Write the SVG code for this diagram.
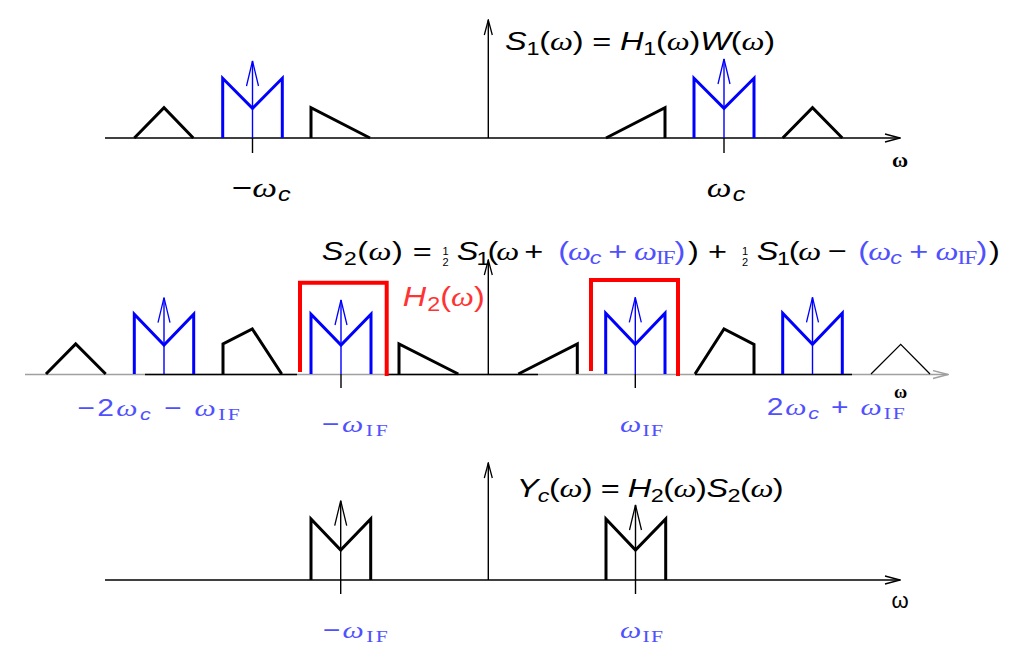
<svg xmlns="http://www.w3.org/2000/svg" width="1023" height="655" viewBox="0 0 1023 655">
<style>
.ax{stroke:#000;stroke-width:1.4;fill:none}
.axg{stroke:#a0a0a0;stroke-width:1.6;fill:none}
.sh{stroke:#000;stroke-width:3;fill:none;stroke-linejoin:miter}
.thin{stroke:#000;stroke-width:1.3;fill:none}
.bm{stroke:#0000ff;stroke-width:3;fill:none;stroke-linejoin:miter}
.rf{stroke:#ff0000;stroke-width:4;fill:none;stroke-linejoin:miter}
.ib{stroke:#0000ff;stroke-width:1.4;fill:none}
.ik{stroke:#000;stroke-width:1.4;fill:none}
.tk{stroke:#000;stroke-width:1.4}
text{font-family:"Liberation Sans","Noto Sans",sans-serif}
.t{font-size:26px;fill:#000}
.lb{fill:#5050ff}
.i{font-style:italic}
.w{font-family:"Liberation Serif",serif;font-style:italic}
.s{font-size:0.72em}
.sf{font-family:"Liberation Serif",serif;font-style:normal}
.om{font-family:"Liberation Serif",serif;font-weight:bold;fill:#000}
.fr{font-size:11px;fill:#000;text-anchor:middle}
</style>
<defs>
<marker id="ak" viewBox="-16 -5 17 10" markerWidth="17" markerHeight="10" refX="0" refY="0" orient="auto" markerUnits="userSpaceOnUse"><path d="M-15 -4 L0 0 L-15 4" fill="none" stroke="#000" stroke-width="1.3"/></marker>
<marker id="ag" viewBox="-16 -5 17 10" markerWidth="17" markerHeight="10" refX="0" refY="0" orient="auto" markerUnits="userSpaceOnUse"><path d="M-15 -4 L0 0 L-15 4" fill="none" stroke="#a0a0a0" stroke-width="1.3"/></marker>
<marker id="ib" viewBox="-27 -7 28 14" markerWidth="28" markerHeight="14" refX="0" refY="0" orient="auto" markerUnits="userSpaceOnUse"><path d="M-25 -6 L0 0 L-25 6" fill="none" stroke="#0000ff" stroke-width="1.3"/></marker>
<marker id="ik" viewBox="-27 -7 28 14" markerWidth="28" markerHeight="14" refX="0" refY="0" orient="auto" markerUnits="userSpaceOnUse"><path d="M-25 -6 L0 0 L-25 6" fill="none" stroke="#000" stroke-width="1.3"/></marker>
</defs>

<g id="connectors">
<line class="ax" x1="105" y1="138" x2="900" y2="138" marker-end="url(#ak)"/>
<line class="ax" x1="488.3" y1="138" x2="488.3" y2="20" marker-end="url(#ak)"/>
<line class="axg" x1="25" y1="374.5" x2="948" y2="374.5" marker-end="url(#ag)"/>
<line class="ax" x1="145" y1="374.5" x2="297" y2="374.5"/>
<line class="ax" x1="387" y1="374.5" x2="538" y2="374.5"/>
<line class="ax" x1="695" y1="374.5" x2="852" y2="374.5"/>
<line class="ax" x1="488.3" y1="374.5" x2="488.3" y2="260" marker-end="url(#ak)"/>
<line class="ax" x1="105" y1="580" x2="900" y2="580" marker-end="url(#ak)"/>
<line class="ax" x1="488.3" y1="580" x2="488.3" y2="463" marker-end="url(#ak)"/>
<line class="tk" x1="252.5" y1="138" x2="252.5" y2="153"/>
<line class="tk" x1="724" y1="138" x2="724" y2="153"/>
<line class="tk" x1="341" y1="374" x2="341" y2="388"/>
<line class="tk" x1="635.3" y1="374" x2="635.3" y2="388"/>
<line class="tk" x1="340.7" y1="580" x2="340.7" y2="594"/>
<line class="tk" x1="635.5" y1="580" x2="635.5" y2="594"/>
</g>

<g id="panel1">
<path class="sh" d="M134.3 138 L164 107.7 L193.3 138"/>
<path class="bm" d="M222.7 138 V78.3 L252.5 108.3 L282.3 78.3 V138"/>
<line class="ib" x1="252.5" y1="138" x2="252.5" y2="61" marker-end="url(#ib)"/>
<path class="sh" d="M311 138 V107.7 L370 138"/>
<path class="sh" d="M606 138 L665 107.7 V138"/>
<path class="bm" d="M694 138 V78.3 L724 108.3 L754 78.3 V138"/>
<line class="ib" x1="724" y1="138" x2="724" y2="59" marker-end="url(#ib)"/>
<path class="sh" d="M782.7 138 L812.5 107.7 L842.3 138"/>
<g transform="translate(505,50) scale(1.25,1)"><text class="t" textLength="216" lengthAdjust="spacing"><tspan class="i">S</tspan><tspan class="s" dy="5">1</tspan><tspan dy="-5">(</tspan><tspan class="w">ω</tspan>) = <tspan class="i">H</tspan><tspan class="s" dy="5">1</tspan><tspan dy="-5">(</tspan><tspan class="w">ω</tspan>)<tspan class="i">W</tspan>(<tspan class="w">ω</tspan>)</text></g>
<text class="om" x="900" y="167" font-size="22" text-anchor="middle">ω</text>
<g transform="translate(231.7,197) scale(1.25,1)"><text font-size="28">−<tspan class="w">ω</tspan><tspan class="i s" dx="1" dy="4">c</tspan></text></g>
<g transform="translate(706.7,197) scale(1.25,1)"><text font-size="28"><tspan class="w">ω</tspan><tspan class="i s" dx="1" dy="4">c</tspan></text></g>
</g>

<g id="panel2">
<path class="sh" d="M46 374 L75.7 344 L105.7 374"/>
<path class="bm" d="M134.3 374 V314.3 L164 345 L193.7 314.3 V374"/>
<line class="ib" x1="164" y1="374" x2="164" y2="297.7" marker-end="url(#ib)"/>
<path class="sh" d="M223 374 V344 L252.3 329 L281.7 374"/>
<path class="rf" d="M300 372 V282.7 H386.7 V376"/>
<path class="bm" d="M311 374 V314.3 L341 345 L371 314.3 V374"/>
<line class="ib" x1="341" y1="374" x2="341" y2="300" marker-end="url(#ib)"/>
<path class="sh" d="M399 374 V344 L458.3 374"/>
<path class="sh" d="M518.3 374 L577.3 344 V374"/>
<path class="rf" d="M591 371 V280 H678 V376"/>
<path class="bm" d="M605.7 374 V313.3 L635.3 344.3 L665 313.3 V374"/>
<line class="ib" x1="635.3" y1="374" x2="635.3" y2="297.3" marker-end="url(#ib)"/>
<path class="sh" d="M695 374 L724 329 L754 344.3 V374"/>
<path class="bm" d="M782.7 374 V313.3 L812.5 344.3 L842.3 313.3 V374"/>
<line class="ib" x1="812.5" y1="374" x2="812.5" y2="297.3" marker-end="url(#ib)"/>
<path class="thin" d="M871 374 L900.7 344.3 L930 374"/>
<g transform="translate(402.7,306) scale(1.2,1)"><text font-size="27" fill="#ff3333"><tspan class="i">H</tspan><tspan class="s" dx="1" dy="5">2</tspan><tspan dy="-5">(</tspan><tspan class="w">ω</tspan>)</text></g>
<g transform="translate(321.7,260) scale(1.25,1)"><text class="t" textLength="88" lengthAdjust="spacing"><tspan class="i">S</tspan><tspan class="s" dy="5">2</tspan><tspan dy="-5">(</tspan><tspan class="w">ω</tspan>) =</text></g>
<text class="fr"><tspan x="445.5" y="255">1</tspan><tspan x="445.5" y="266">2</tspan></text>
<g transform="translate(456.7,260) scale(1.25,1)"><text class="t" textLength="69.3" lengthAdjust="spacing"><tspan class="i">S</tspan><tspan class="s" dy="5">1</tspan><tspan dy="-5">(</tspan><tspan class="w">ω</tspan> +</text></g>
<g transform="translate(558.3,260) scale(1.25,1)"><text class="t lb" textLength="101.6" lengthAdjust="spacing">(<tspan class="w">ω</tspan><tspan class="i s" dy="4">c</tspan><tspan dy="-4"> + </tspan><tspan class="w">ω</tspan><tspan class="sf s" dy="4">IF</tspan><tspan dy="-4">)</tspan></text></g>
<g transform="translate(688,260) scale(1.25,1)"><text class="t" textLength="31.2" lengthAdjust="spacing">) +</text></g>
<text class="fr"><tspan x="745" y="255">1</tspan><tspan x="745" y="266">2</tspan></text>
<g transform="translate(756.7,260) scale(1.25,1)"><text class="t" textLength="72" lengthAdjust="spacing"><tspan class="i">S</tspan><tspan class="s" dy="5">1</tspan><tspan dy="-5">(</tspan><tspan class="w">ω</tspan> −</text></g>
<g transform="translate(858.3,260) scale(1.25,1)"><text class="t lb" textLength="103.2" lengthAdjust="spacing">(<tspan class="w">ω</tspan><tspan class="i s" dy="4">c</tspan><tspan dy="-4"> + </tspan><tspan class="w">ω</tspan><tspan class="sf s" dy="4">IF</tspan><tspan dy="-4">)</tspan></text></g>
<g transform="translate(989,260) scale(1.25,1)"><text class="t">)</text></g>
<text class="om" x="900.7" y="398" font-size="18" text-anchor="middle">ω</text>
<g transform="translate(77.3,416) scale(1.25,1)"><text class="lb" font-size="24" textLength="130" lengthAdjust="spacing">−2<tspan class="w">ω</tspan><tspan class="i s" dy="4">c</tspan><tspan dy="-4"> − </tspan><tspan class="w">ω</tspan><tspan class="sf s" dy="4">IF</tspan></text></g>
<g transform="translate(766.7,415) scale(1.25,1)"><text class="lb" font-size="24" textLength="110.4" lengthAdjust="spacing">2<tspan class="w">ω</tspan><tspan class="i s" dy="4">c</tspan><tspan dy="-4"> + </tspan><tspan class="w">ω</tspan><tspan class="sf s" dy="4">IF</tspan></text></g>
<g transform="translate(321.7,432) scale(1.25,1)"><text class="lb" font-size="24" textLength="52.8" lengthAdjust="spacing">−<tspan class="w">ω</tspan><tspan class="sf s" dy="4">IF</tspan></text></g>
<g transform="translate(620,432) scale(1.25,1)"><text class="lb" font-size="24" textLength="34.4" lengthAdjust="spacing"><tspan class="w">ω</tspan><tspan class="sf s" dy="4">IF</tspan></text></g>
</g>

<g id="panel3">
<path class="sh" d="M311 580 V519 L340.7 550 L370.7 519 V580"/>
<line class="ik" x1="340.7" y1="580" x2="340.7" y2="500.7" marker-end="url(#ik)"/>
<path class="sh" d="M606 580 V519 L635.5 550 L665.7 519 V580"/>
<line class="ik" x1="635.5" y1="580" x2="635.5" y2="505" marker-end="url(#ik)"/>
<g transform="translate(516.7,497) scale(1.25,1)"><text class="t" textLength="213.6" lengthAdjust="spacing"><tspan class="i">Y</tspan><tspan class="i s" dy="5">c</tspan><tspan dy="-5">(</tspan><tspan class="w">ω</tspan>) = <tspan class="i">H</tspan><tspan class="s" dy="5">2</tspan><tspan dy="-5">(</tspan><tspan class="w">ω</tspan>)<tspan class="i">S</tspan><tspan class="s" dy="5">2</tspan><tspan dy="-5">(</tspan><tspan class="w">ω</tspan>)</text></g>
<text x="900" y="608" font-size="22" font-family="Liberation Serif" text-anchor="middle">ω</text>
<g transform="translate(322.7,638) scale(1.25,1)"><text class="lb" font-size="24" textLength="52" lengthAdjust="spacing">−<tspan class="w">ω</tspan><tspan class="sf s" dy="4">IF</tspan></text></g>
<g transform="translate(620,638) scale(1.25,1)"><text class="lb" font-size="24" textLength="34.4" lengthAdjust="spacing"><tspan class="w">ω</tspan><tspan class="sf s" dy="4">IF</tspan></text></g>
</g>
</svg>
